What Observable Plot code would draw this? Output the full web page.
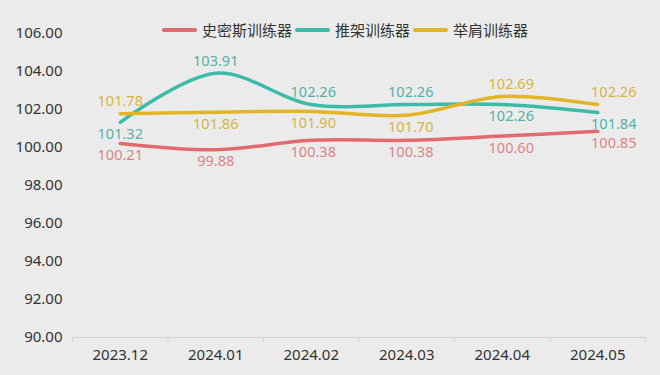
<!DOCTYPE html>
<html>
<head>
<meta charset="utf-8">
<script src="https://cdn.jsdelivr.net/npm/d3@7"></script>
<script src="https://cdn.jsdelivr.net/npm/@observablehq/plot@0.6"></script>
<style>
  html, body { margin: 0; padding: 0; background: #ebebeb; }
  #wrap { position: relative; width: 660px; height: 375px; background: #ebebeb; overflow: hidden;
          font-family: "Noto Sans", "Noto Sans CJK SC", sans-serif; }
  #legend { position: absolute; top: 19px; left: 162px; display: flex; align-items: center;
            font-family: "Noto Sans CJK SC", "Noto Sans", sans-serif; font-size: 15px; color: #333; }
  .item { display: flex; align-items: center; margin-right: 3px; }
  .sw { width: 35px; height: 4px; border-radius: 2px; margin-right: 5px; }
</style>
</head>
<body>
<div id="wrap"><div id="legend"></div></div>
<script>
const categories = ["2023.12", "2024.01", "2024.02", "2024.03", "2024.04", "2024.05"];
const seriesNames = ["史密斯训练器", "推架训练器", "举肩训练器"];
const smith = [100.21, 99.88, 100.38, 100.38, 100.60, 100.85];
const press = [101.32, 103.91, 102.26, 102.26, 102.26, 101.84];
const shoulder = [101.78, 101.86, 101.90, 101.70, 102.69, 102.26];
const yTicks = [90, 92, 94, 96, 98, 100, 102, 104, 106];

// styles
const lineColors = ["#e06a6e", "#3dbba8", "#e2b526"];
const labelColors = ["#d98586", "#55b0a6", "#d6b43e"];
const labelSides = [
  ["below", "below", "below", "below", "below", "below"],
  ["below", "above", "above", "above", "below", "below"],
  ["above", "below", "below", "below", "above", "above"]
];
const labelShift = [0, 0, 2, 4, 9, 16];

const values = [smith, press, shoulder];
const rows = [];
values.forEach((arr, s) => arr.forEach((v, i) => rows.push({i, cat: categories[i], value: v, s, side: labelSides[s][i]})));

const idx = categories.map((_, i) => i);
const bounds = categories.map((_, i) => i - 0.5).concat([categories.length - 0.5]);

const marks = [
  Plot.ruleY([90], {stroke: "#d0d0d0", strokeWidth: 1}),
  Plot.axisX({ticks: bounds, tickSize: 5, tickFormat: () => "", stroke: "#d0d0d0", label: null}),
  Plot.axisX({ticks: idx, tickSize: 0, tickPadding: 12, tickFormat: i => categories[i], fontSize: 15, fill: "#333", label: null}),
  Plot.axisY({ticks: yTicks, tickSize: 0, tickPadding: 10, tickFormat: d => d.toFixed(2), fontSize: 15, fill: "#333", label: null})
];
values.forEach((arr, s) => {
  marks.push(Plot.line(rows.filter(r => r.s === s), {x: "i", y: "value", stroke: lineColors[s], strokeWidth: 3.5, curve: "catmull-rom"}));
});
values.forEach((arr, s) => {
  ["above", "below"].forEach(side => {
    idx.forEach(i => {
      const d = rows.filter(r => r.s === s && r.i === i && r.side === side);
      if (d.length) marks.push(Plot.text(d, {x: "i", y: "value", text: r => r.value.toFixed(2), fill: labelColors[s],
        fontSize: 14.5, dy: side === "above" ? -12 : 12, dx: labelShift[i], lineAnchor: "middle"}));
    });
  });
});

const chart = Plot.plot({
  width: 660, height: 375,
  marginLeft: 72, marginRight: 15, marginTop: 33, marginBottom: 38,
  style: {background: "transparent", fontFamily: "'Noto Sans', 'Noto Sans CJK SC', sans-serif", fontSize: "15px", color: "#333"},
  x: {type: "linear", domain: [-0.5, categories.length - 0.5], axis: null, label: null},
  y: {domain: [90, 106], axis: null, label: null},
  marks
});
const wrap = document.getElementById("wrap");
wrap.insertBefore(chart, wrap.firstChild);

const legend = document.getElementById("legend");
seriesNames.forEach((n, s) => {
  const it = document.createElement("div");
  it.className = "item";
  it.innerHTML = `<div class="sw" style="background:${lineColors[s]}"></div><span>${n}</span>`;
  legend.appendChild(it);
});
</script>
</body>
</html>
